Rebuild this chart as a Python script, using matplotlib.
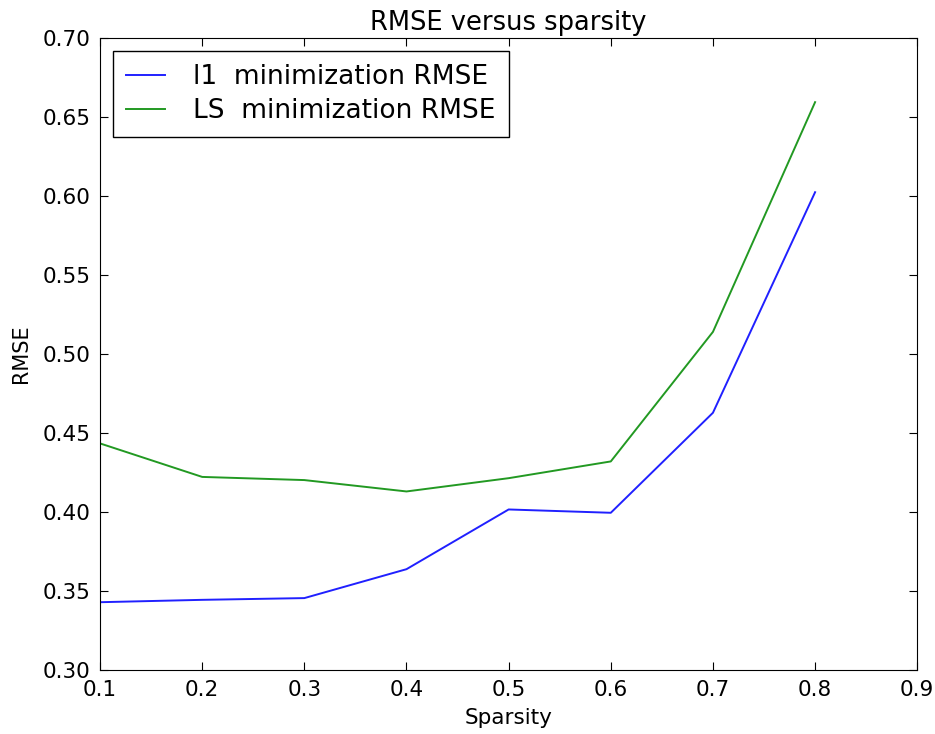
import matplotlib
matplotlib.use('Agg')
import matplotlib.pyplot as plt

# sparsity levels and RMSE values
sparsity = [0.1, 0.2, 0.3, 0.4, 0.5, 0.6, 0.7, 0.8]
rmse_l1 = [0.343, 0.3445, 0.3456, 0.3639, 0.4017, 0.3996, 0.4629, 0.6025]
rmse_ls = [0.4435, 0.4223, 0.4203, 0.4131, 0.4215, 0.4321, 0.5141, 0.6595]

fig = plt.figure(figsize=(9.35, 7.34), dpi=100)
ax = fig.add_axes([0.107, 0.087, 0.874, 0.861])

ax.plot(sparsity, rmse_l1, color='#2020ff', lw=1.4, label='l1  minimization RMSE')
ax.plot(sparsity, rmse_ls, color='#229922', lw=1.4, label='LS  minimization RMSE')

ax.set_xlim(0.1, 0.9)
ax.set_ylim(0.30, 0.70)
ax.set_xticks([0.1, 0.2, 0.3, 0.4, 0.5, 0.6, 0.7, 0.8, 0.9])
ax.set_yticks([0.30, 0.35, 0.40, 0.45, 0.50, 0.55, 0.60, 0.65, 0.70])
ax.set_xticklabels(['%.1f' % v for v in ax.get_xticks()])
ax.set_yticklabels(['%.2f' % v for v in ax.get_yticks()])
ax.tick_params(direction='in', length=6, labelsize=15.5, top=True, right=True, pad=7)

ax.set_title('RMSE versus sparsity', fontsize=18.5, pad=6)
ax.set_xlabel('Sparsity', fontsize=15.5, labelpad=6)
ax.set_ylabel('RMSE', fontsize=15, labelpad=8)

leg = ax.legend(loc='upper left', fontsize=19, fancybox=False, framealpha=1,
                edgecolor='black', borderaxespad=0.48, borderpad=0.5,
                handlelength=1.5, handletextpad=1.05, labelspacing=0.3)
leg.get_frame().set_linewidth(1.0)

plt.savefig('out.png', dpi=100)
